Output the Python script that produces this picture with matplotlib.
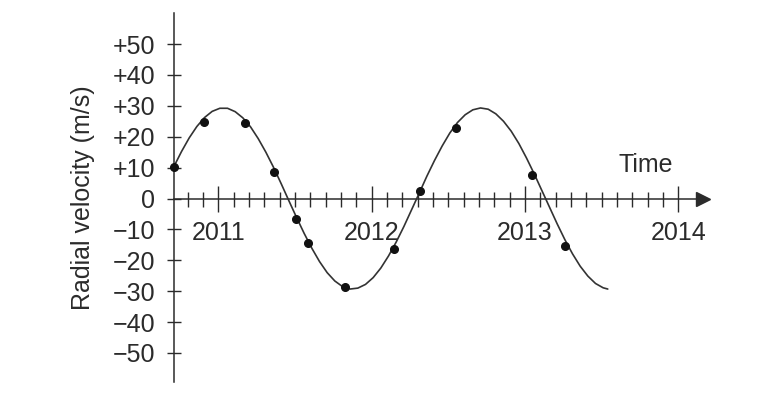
import numpy as np
import matplotlib
matplotlib.use('Agg')
import matplotlib.pyplot as plt

plt.rcParams['font.family'] = ['Liberation Sans', 'DejaVu Sans']

# measured points (year, radial velocity m/s)
obs_t = [2010.711, 2010.907, 2011.174, 2011.365, 2011.508, 2011.583,
         2011.826, 2012.149, 2012.315, 2012.548, 2013.049, 2013.261]
obs_v = [10.3, 24.9, 24.5, 8.7, -6.7, -14.5,
         -28.5, -16.3, 2.5, 22.7, 7.6, -15.4]

# fitted curve, every 0.05 year
curve_t = [2010.71, 2010.76, 2010.81, 2010.86, 2010.91, 2010.96, 2011.01, 2011.06,
           2011.11, 2011.16, 2011.21, 2011.26, 2011.31, 2011.36, 2011.41, 2011.46,
           2011.51, 2011.56, 2011.61, 2011.66, 2011.71, 2011.76, 2011.81, 2011.86,
           2011.91, 2011.96, 2012.01, 2012.06, 2012.11, 2012.16, 2012.21, 2012.26,
           2012.31, 2012.36, 2012.41, 2012.46, 2012.51, 2012.56, 2012.61, 2012.66,
           2012.71, 2012.76, 2012.81, 2012.86, 2012.91, 2012.96, 2013.01, 2013.06,
           2013.11, 2013.16, 2013.21, 2013.26, 2013.31, 2013.36, 2013.41, 2013.46,
           2013.51, 2013.54]
curve_v = [10.3, 15.2, 19.6, 23.3, 26.2, 28.2, 29.2, 29.2,
           28.1, 26.1, 23.2, 19.4, 15.0, 10.1, 4.8, -0.7,
           -6.1, -11.3, -16.1, -20.4, -24.0, -26.7, -28.5, -29.3,
           -29.0, -27.8, -25.6, -22.5, -18.6, -14.1, -9.1, -3.7,
           1.7, 7.2, 12.3, 17.0, 21.2, 24.6, 27.1, 28.7,
           29.3, 28.9, 27.4, 25.0, 21.8, 17.8, 13.1, 8.0,
           2.6, -2.8, -8.2, -13.3, -17.9, -21.9, -25.1, -27.5,
           -28.9, -29.3]

years = [2011, 2012, 2013, 2014]
year_labels = ['2011', '2012', '2013', '2014']
yticks = [-50, -40, -30, -20, -10, 0, 10, 20, 30, 40, 50]
ytick_labels = ['\u221250', '\u221240', '\u221230', '\u221220', '\u221210', '0',
                '+10', '+20', '+30', '+40', '+50']

x0 = 2010.71
ink = '#2b2b2b'
fs = 18

fig = plt.figure(figsize=(7.8, 4.04), dpi=100)
ax = fig.add_axes([0.1816, 0.03446, 0.7863, 0.9484])
ax.set_xlim(2010.5, 2014.5)
ax.set_ylim(-62, 62)

ax.plot(curve_t, curve_v, color='#333333', lw=1.2, solid_capstyle='round', zorder=3)
ax.plot(obs_t, obs_v, 'o', color='#111111', ms=5.5, zorder=4, clip_on=False)

for s in ['top', 'right']:
    ax.spines[s].set_visible(False)
ax.spines['left'].set_position(('data', x0))
ax.spines['left'].set_bounds(-59.4, 60)
ax.spines['bottom'].set_position(('data', 0))
ax.spines['bottom'].set_bounds(x0, 2014.15)
for s in ['left', 'bottom']:
    ax.spines[s].set_color(ink)
    ax.spines[s].set_linewidth(1.1)
ax.plot(2014.16, 0, marker='>', ms=10, color=ink, clip_on=False, zorder=5)

ax.set_yticks(yticks, ytick_labels)
ax.tick_params(axis='y', direction='inout', length=10.5, width=1.0, color=ink,
               labelsize=fs, labelcolor=ink, pad=8)
ax.set_xticks(years, year_labels)
minor = [round(2010.8 + 0.1 * i, 1) for i in range(33)]
minor = [m for m in minor if m not in years]
ax.set_xticks(minor, minor=True)
ax.tick_params(axis='x', which='major', direction='inout', length=18.7, width=1.0,
               color=ink, labelsize=fs, labelcolor=ink, pad=7)
ax.tick_params(axis='x', which='minor', direction='inout', length=10.8, width=1.0,
               color=ink)

ax.text(2013.79, 10.8, 'Time', fontsize=fs, color=ink, ha='center', va='center')
fig.text(83 / 780, 1 - 197.5 / 404, 'Radial velocity (m/s)', rotation=90,
         fontsize=fs, color=ink, ha='center', va='center')

fig.savefig('out.png', dpi=100)
